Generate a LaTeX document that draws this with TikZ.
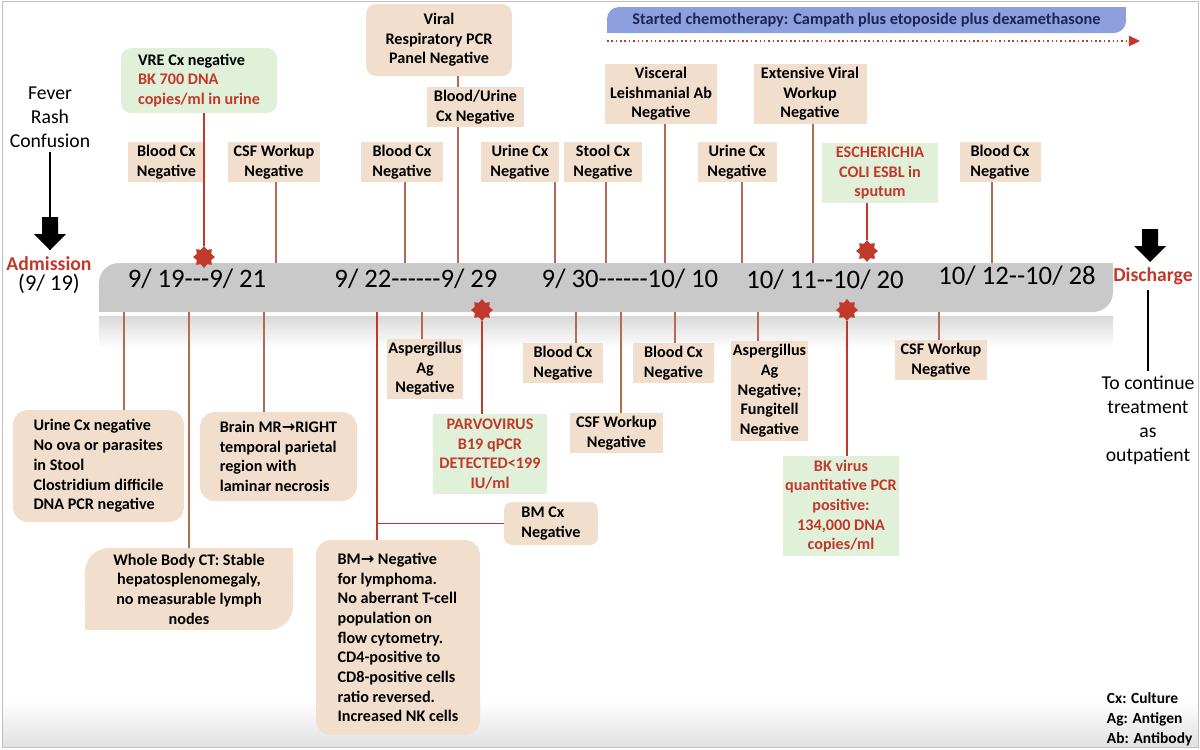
\documentclass[tikz,border=0pt]{standalone}
\usepackage{fontspec}
\setmainfont{Carlito}
\newfontfamily\datefont[Ligatures=TeXOff]{Carlito}
\newfontfamily\arrowfont{DejaVu Sans}
\usepackage{xcolor}
\usepackage{tikz}
\usetikzlibrary{arrows.meta, positioning, shapes.geometric}
\definecolor{cBar}{HTML}{C9C9C9}
\definecolor{cBeige}{HTML}{F2DECD}
\definecolor{cGreen}{HTML}{E1F0D8}
\definecolor{cAlert}{HTML}{C0392B}
\definecolor{cLink}{HTML}{B56A52}
\definecolor{cChemo}{HTML}{8E9FDE}
\definecolor{cNavy}{HTML}{1C2558}
\newcommand{\tagfont}{\bfseries\fontsize{11.5}{14}\selectfont}
\newcommand{\bigfont}{\fontsize{14}{17}\selectfont}
\newcommand{\rarr}{{\arrowfont\bfseries →}}
\newcommand{\blockarrow}[1]{\fill[black] (#1) ++(-8,-33) -- ++(16,0) -- ++(0,17) -- ++(8,0) -- ++(-16,16) -- ++(-16,-16) -- ++(8,0) -- cycle;}
\newcommand{\squareoff}[3]{\fill[#3] (#1.north east) rectangle ([xshift=-#2, yshift=-#2]#1.north east); \fill[#3] (#1.south west) rectangle ([xshift=#2, yshift=#2]#1.south west);}
\tikzset{
  tag/.style={rectangle, fill=cBeige, font=\tagfont, align=center, inner xsep=1pt, inner ysep=1pt, text=black},
  hit/.style={tag, fill=cGreen, text=cAlert},
  tick/.style={draw=cLink, line width=0.8pt},
  redtick/.style={draw=cAlert, line width=1pt},
  burst/.style={star, star points=8, star point ratio=1.4, fill=cAlert, inner sep=0pt, minimum size=5.5mm},
  datelbl/.style={font=\datefont\fontsize{19}{23}\selectfont},
  big/.style={font=\bigfont, align=center},
  alertlbl/.style={font=\bfseries\fontsize{14}{17}\selectfont, text=cAlert},
}

\begin{document}
\begin{tikzpicture}[x=0.25mm, y=-0.25mm]
\useasboundingbox (0,0) rectangle (1200,749);
% frame and floor
\shade[top color=white, bottom color=black!12] (2,700) rectangle (1198,747);
\draw[black!25] (2,1) rectangle (1198,747);
% timeline bar
\shade[top color=cBar!70, bottom color=white] (99,316) rectangle (1113,348);
\node[fill=cBar, rounded corners=5mm, minimum width=253.5mm, minimum height=12.25mm, inner sep=0pt] (bar) at (606,287.5) {};
\squareoff{bar}{5mm}{cBar}
\node[datelbl] (d1) at (197,279) {9/ 19---9/ 21};
\node[datelbl] (d2) at (416,279) {9/ 22------9/ 29};
\node[datelbl] (d3) at (630,279) {9/ 30------10/ 10};
\node[datelbl] (d4) at (825,280) {10/ 11--10/ 20};
\node[datelbl] (d5) at (1017,276) {10/ 12--10/ 28};
% chemo band
\node[fill=cChemo, rounded corners=3mm, minimum width=129.75mm, minimum height=6.5mm, inner sep=0pt, font=\bfseries\fontsize{11.6}{13}\selectfont, text=cNavy] (chemo) at (866.5,20) {Started chemotherapy: Campath plus etoposide plus dexamethasone};
\squareoff{chemo}{3mm}{cChemo}
\coordinate (chemoL) at (607,41);
\coordinate (chemoR) at (1140,41);
\draw[cAlert, line width=1.1pt, dotted, -{Triangle[length=2.8mm, width=2.6mm]}] (chemoL) -- (chemoR);
% admission and discharge
\node[big] (sym) at (50,117) {Fever\\Rash\\Confusion};
\coordinate (admtip) at (50,250);
\draw[line width=0.8pt] (sym.south) -- (admtip);
\blockarrow{admtip}
\node[alertlbl] (adm) at (49,264) {Admission};
\node[font=\datefont\fontsize{16}{19}\selectfont] (admdate) at (49,284) {(9/ 19)};
\coordinate (distip) at (1150,262);
\blockarrow{distip}
\node[alertlbl] (dis) at (1153,276) {Discharge};
\node[big] (cont) at (1148,420) {To continue\\treatment\\as\\outpatient};
\draw[line width=0.8pt] (dis.south -| cont) -- (cont.north);
% findings above the bar
\node[hit, text=black, align=left, rounded corners=2.5mm, minimum width=39mm, minimum height=16.25mm] (vre) at (199,80.5) {VRE Cx negative\\\textcolor{cAlert}{BK 700 DNA}\\\textcolor{cAlert}{copies/ml in urine}};
\node[tag, minimum width=19.25mm, minimum height=10mm] (bloodA) at (166.5,162) {Blood Cx\\Negative};
\node[tag, minimum width=23mm, minimum height=10mm] (csfA) at (274,162) {CSF Workup\\Negative};
\node[tag, rounded corners=2.5mm, minimum width=36.5mm, minimum height=18mm] (viral) at (439,40) {Viral\\Respiratory PCR\\Panel Negative};
\node[tag, minimum width=24.25mm, minimum height=10mm] (bu) at (475.5,107) {Blood/Urine\\Cx Negative};
\node[tag, minimum width=20.5mm, minimum height=10mm] (bloodB) at (402,162) {Blood Cx\\Negative};
\node[tag, minimum width=19.5mm, minimum height=10mm] (urineD) at (520,162) {Urine Cx\\Negative};
\node[tag, minimum width=19.5mm, minimum height=10mm] (stool) at (603,162) {Stool Cx\\Negative};
\node[tag, minimum width=28mm, minimum height=15mm] (visc) at (661,94) {Visceral\\Leishmanial Ab\\Negative};
\node[tag, minimum width=19.75mm, minimum height=10mm] (urineG) at (737,162) {Urine Cx\\Negative};
\node[tag, minimum width=28.25mm, minimum height=15mm] (extv) at (810,94) {Extensive Viral\\Workup\\Negative};
\node[hit, minimum width=29mm, minimum height=15mm] (esch) at (880,173) {ESCHERICHIA\\COLI ESBL in\\sputum};
\node[tag, minimum width=20.25mm, minimum height=10mm] (bloodI) at (1000,162) {Blood Cx\\Negative};
% findings below the bar
\node[tag, align=left, rounded corners=3.75mm, minimum width=42.75mm, minimum height=28mm] (ova) at (98.5,466) {Urine Cx negative\\No ova or parasites\\in Stool\\Clostridium difficile\\DNA PCR negative};
\node[tag, rounded corners=6mm, minimum width=52mm, minimum height=20.5mm] (ct) at (189,589) {Whole Body CT: Stable\\hepatosplenomegaly,\\no measurable lymph\\nodes};
\squareoff{ct}{6mm}{cBeige}
\node[tag, align=left, rounded corners=3.75mm, minimum width=39.25mm, minimum height=22.25mm] (brain) at (278.5,456.5) {Brain MR\rarr RIGHT\\temporal parietal\\region with\\laminar necrosis};
\node[tag, align=left, rounded corners=3.75mm, minimum width=41mm, minimum height=48.75mm] (bm) at (398,637.5) {BM\rarr\ Negative\\for lymphoma.\\No aberrant T-cell\\population on\\flow cytometry.\\CD4-positive to\\CD8-positive cells\\ratio reversed.\\Increased NK cells};
\node[tag, align=left, rounded corners=2mm, minimum width=23.5mm, minimum height=10.75mm] (bmcx) at (551,523.5) {BM Cx\\Negative};
\node[tag, minimum width=18.5mm, minimum height=15mm] (aspA) at (425,369) {Aspergillus\\Ag\\Negative};
\node[hit, minimum width=28.5mm, minimum height=20mm] (parvo) at (490,454) {PARVOVIRUS\\B19 qPCR\\DETECTED<199\\IU/ml};
\node[tag, minimum width=20mm, minimum height=10mm] (bloodF) at (563,363) {Blood Cx\\Negative};
\node[tag, minimum width=23.25mm, minimum height=10mm] (csfG) at (616.5,433) {CSF Workup\\Negative};
\node[tag, minimum width=20.25mm, minimum height=10mm] (bloodH) at (673.5,363) {Blood Cx\\Negative};
\node[tag, minimum width=18.75mm, minimum height=25mm] (aspI) at (769.5,391) {Aspergillus\\Ag\\Negative;\\Fungitell\\Negative};
\node[hit, minimum width=29mm, minimum height=25mm] (bk) at (841,506) {BK virus\\quantitative PCR\\positive:\\134,000 DNA\\copies/ml};
\node[tag, minimum width=23mm, minimum height=10mm] (csfJ) at (941,360) {CSF Workup\\Negative};
% positive results
\node[burst] (sA) at (204,257) {};
\node[burst] (sB) at (867,251) {};
\node[burst] (sC) at (482,310) {};
\node[burst] (sD) at (847,310) {};
% ticks
\foreach \n/\x in {A/276, B/405, C/458, D/555, E/606, F/665, G/742, H/813, I/992} \coordinate (up\n) at (\x,263);
\foreach \n/\x in {A/124, B/189, C/264, D/377, E/422, F/576, G/621, H/675, I/758, J/939} \coordinate (dn\n) at (\x,312);
\draw[redtick] (vre.south -| sA) -- (sA.north);
\draw[redtick] (esch.south -| sB) -- (sB.north);
\draw[redtick] (sC.south) -- (parvo.north -| sC);
\draw[redtick] (sD.south) -- (bk.north -| sD);
\draw[tick] (csfA.south -| upA) -- (upA);
\draw[tick] (bloodB.south -| upB) -- (upB);
\draw[tick] (viral.south -| upC) -- (bu.north -| upC);
\draw[tick] (bu.south -| upC) -- (upC);
\draw[tick] (urineD.south -| upD) -- (upD);
\draw[tick] (stool.south -| upE) -- (upE);
\draw[tick] (visc.south -| upF) -- (upF);
\draw[tick] (urineG.south -| upG) -- (upG);
\draw[tick] (extv.south -| upH) -- (upH);
\draw[tick] (bloodI.south -| upI) -- (upI);
\draw[tick] (dnA) -- (ova.north -| dnA);
\draw[tick] (dnB) -- (ct.north -| dnB);
\draw[tick] (dnC) -- (brain.north -| dnC);
\draw[redtick] (dnD) -- (bm.north -| dnD);
\draw[redtick] (bmcx.west) -- (bmcx.west -| dnD);
\draw[tick] (dnE) -- (aspA.north -| dnE);
\draw[tick] (dnF) -- (bloodF.north -| dnF);
\draw[tick] (dnG) -- (csfG.north -| dnG);
\draw[tick] (dnH) -- (bloodH.north -| dnH);
\draw[tick] (dnI) -- (aspI.north -| dnI);
\draw[tick] (dnJ) -- (csfJ.north -| dnJ);
% key
\node[font=\bfseries\fontsize{11}{14}\selectfont, align=left, anchor=north west] (key) at (1102,688) {Cx: Culture\\Ag: Antigen\\Ab: Antibody};
\end{tikzpicture}
\end{document}
